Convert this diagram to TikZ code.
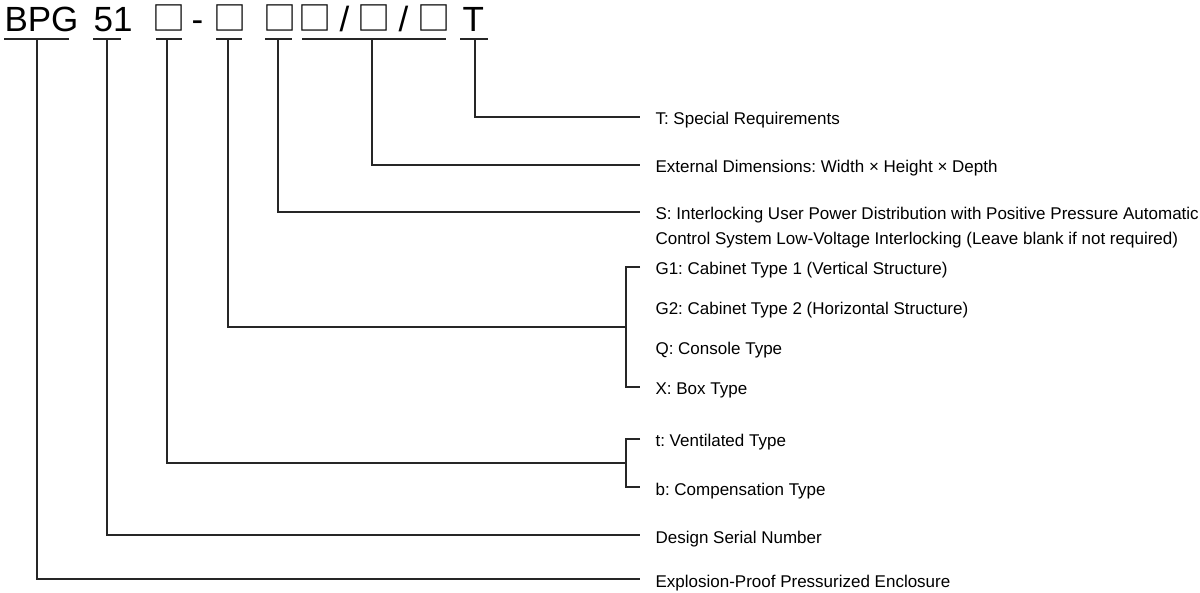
\documentclass[tikz,border=0pt]{standalone}
\usepackage{fontspec}
\setmainfont{Liberation Sans}
\newfontfamily\cjk{Noto Sans CJK SC}
\usetikzlibrary{positioning,calc}
\frenchspacing

\begin{document}
\begin{tikzpicture}[x=1pt,y=-1pt,line width=1.1pt,color=black!85,
  code/.style={anchor=base west,inner sep=0pt,text=black,font=\fontsize{35}{40}\selectfont},
  box/.style={code,font=\fontsize{33}{40}\cjk},
  desc/.style={anchor=west,inner sep=0pt,text=black,text height=16pt,text depth=0pt,
    font=\fontsize{17}{20}\selectfont}]
  \useasboundingbox (0,0) rectangle (1200,593);
  % model code
  \node[code] (bpg) at (4,32) {BPG};
  \node[code] (num) at (93,32) {51};
  \node[box] (sq1) at (152.2,30.8) {□};
  \node[code] (dash) at (191,32) {-};
  \node[box] (sq2) at (213.4,30.8) {□};
  \node[box] (sq3) at (263.4,30.8) {□};
  \node[box] (sq4) at (298.2,30.8) {□};
  \node[code] (sl1) at (339,32) {/};
  \node[box] (sq5) at (357.2,30.8) {□};
  \node[code] (sl2) at (398,32) {/};
  \node[box] (sq6) at (416.5,30.8) {□};
  \node[code] (spT) at (462,32) {T};
  % underlines
  \foreach \n/\a/\b/\t in {exp/4/69/37, des/93/121/107, vent/156/182/167,
      cab/216/242/228, sup/265/292/278, dim/302/446/372, spc/460/488/475}{
    \draw (\a,39) -- (\b,39);
    \coordinate (t-\n) at (\t,39);
  }
  % meanings
  \node[desc] (spc) at (655,117) {T: Special Requirements};
  \node[desc] (dim) at (655,165) {External Dimensions: Width × Height × Depth};
  \node[desc] (sup) at (655,212) {S: Interlocking User Power Distribution with Positive Pressure Automatic};
  \node[desc] (sup2) at (655,237) {Control System Low-Voltage Interlocking (Leave blank if not required)};
  \node[desc] (g1) at (655,267) {G1: Cabinet Type 1 (Vertical Structure)};
  \node[desc] (g2) at (655,307) {G2: Cabinet Type 2 (Horizontal Structure)};
  \node[desc] (con) at (655,347) {Q: Console Type};
  \node[desc] (bx) at (655,387) {X: Box Type};
  \node[desc] (vt) at (655,439) {t: Ventilated Type};
  \node[desc] (cp) at (655,487) {b: Compensation Type};
  \node[desc] (des) at (655,535) {Design Serial Number};
  \node[desc] (exp) at (655,579) {Explosion-Proof Pressurized Enclosure};
  % connectors
  \foreach \n in {spc,dim,sup,des,exp}
    \draw (t-\n) |- ([xshift=-15pt]\n.west);
  \coordinate (j-cab) at (626,327);
  \coordinate (j-vent) at (626,463);
  \draw (t-cab) |- (j-cab);
  \draw ([xshift=-15pt]g1.west) -- (j-cab |- g1.west) -- (j-cab |- bx.west) -- ([xshift=-15pt]bx.west);
  \draw (t-vent) |- (j-vent);
  \draw ([xshift=-15pt]vt.west) -- (j-vent |- vt.west) -- (j-vent |- cp.west) -- ([xshift=-15pt]cp.west);
\end{tikzpicture}
\end{document}
